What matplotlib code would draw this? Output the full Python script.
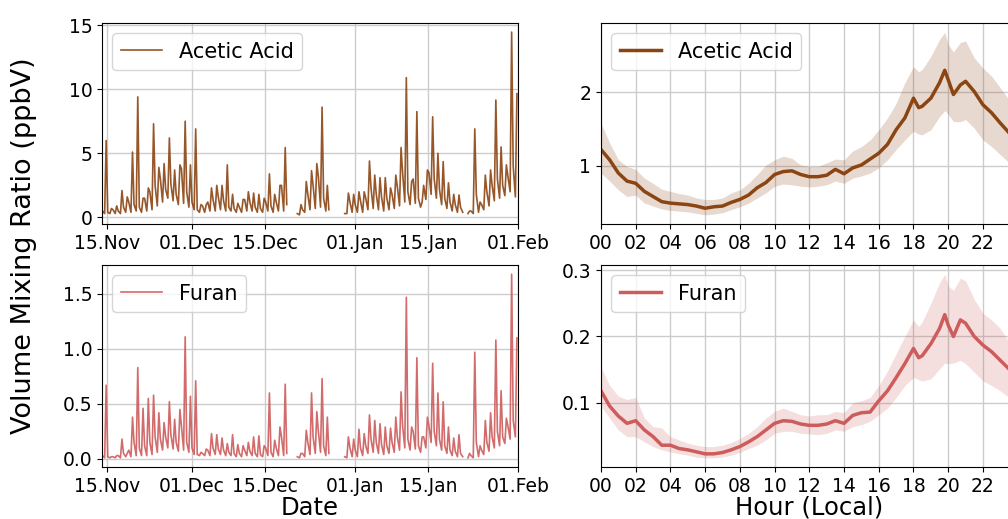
import numpy as np
import matplotlib
matplotlib.use("Agg")
import matplotlib.pyplot as plt
import matplotlib.dates as mdates
import matplotlib.ticker as mticker

nan = np.nan

# ---------------- time series, day 0 = 14 Nov; per day: night (~02h), daytime low (~12h), evening peak (~19h)
start_day = np.datetime64("2022-11-14")
acetic_night = [0.5, 0.4, 0.6, 0.5, 0.8, 1.2, 1.0, 0.8, 1.5, 2.0,
                2.5, 3.0, 2.2, 2.6, 1.8, 3.8, 2.0, 1.2, 0.6, 0.9,
                1.2, 1.4, 1.6, 1.3, 0.8, 0.7, 0.8, 1.4, 1.2, 0.8,
                0.7, 1.2, 0.9, 1.2, 2.5, 1.0, nan, 0.3, 0.6, 1.8,
                2.5, 3.2, 1.5, 0.6, nan, nan, 0.3, 1.2, 1.0, 1.3,
                1.5, 2.3, 1.8, 1.6, 1.5, 1.8, 2.4, 3.5, 2.0, 3.0,
                1.5, 2.5, 3.5, 3.0, 2.2, 1.5, 1.2, 1.0, 0.8, nan,
                0.5, 1.8, 1.0, 2.0, 2.5, 3.0, 2.5, 3.2, 4.0]
acetic_low = [0.3, 0.3, 0.3, 0.3, 0.4, 0.4, 0.5, 0.4, 0.5, 0.6,
              0.9, 1.2, 1.5, 1.3, 1.0, 1.1, 0.8, 0.6, 0.4, 0.4,
              0.5, 0.5, 0.6, 0.5, 0.5, 0.4, 0.4, 0.5, 0.5, 0.4,
              0.4, 0.5, 0.4, 0.5, 0.5, nan, nan, 0.2, 0.4, 0.6,
              0.7, 0.8, 0.5, nan, nan, nan, 0.3, 0.4, 0.4, 0.4,
              0.6, 0.7, 0.6, 0.5, 0.6, 0.7, 0.9, 1.2, 1.0, 1.1,
              0.8, 1.4, 1.8, 1.5, 1.0, 0.7, 0.5, 0.4, 0.4, 0.3,
              0.3, 0.4, 0.6, 0.9, 1.3, 1.5, 1.7, 2.0, 1.6]
acetic_peak = [6.0, 0.7, 0.9, 2.1, 1.6, 5.1, 9.4, 1.5, 2.3, 7.3,
               3.9, 4.2, 6.2, 3.7, 4.1, 7.5, 4.1, 6.9, 1.0, 1.0,
               2.3, 2.5, 2.5, 4.1, 1.8, 1.1, 1.4, 2.0, 1.9, 1.8,
               1.5, 3.4, 1.8, 2.5, 5.45, nan, nan, 1.0, 2.8, 3.65,
               4.2, 8.6, 2.5, nan, nan, nan, 1.9, 1.8, 2.0, 2.0,
               4.4, 3.3, 3.1, 3.1, 2.3, 3.3, 5.45, 10.9, 2.8, 8.25,
               1.2, 3.7, 7.85, 5.0, 4.35, 2.7, 1.8, 1.75, nan, 0.5,
               6.9, 1.2, 3.3, 3.7, 9.15, 5.5, 4.1, 14.45, 9.65]
furan_night = [0.03, 0.02, 0.02, 0.03, 0.05, 0.08, 0.15, 0.10, 0.12, 0.15,
               0.20, 0.18, 0.20, 0.22, 0.15, 0.30, 0.15, 0.10, 0.04, 0.05,
               0.08, 0.10, 0.09, 0.08, 0.06, 0.05, 0.05, 0.08, 0.07, 0.05,
               0.04, 0.10, 0.06, 0.10, 0.20, 0.05, nan, 0.02, 0.05, 0.15,
               0.20, 0.25, 0.12, 0.05, nan, nan, 0.02, 0.10, 0.08, 0.10,
               0.12, 0.18, 0.15, 0.13, 0.12, 0.15, 0.20, 0.30, 0.18, 0.25,
               0.12, 0.20, 0.30, 0.25, 0.18, 0.12, 0.08, 0.07, 0.05, nan,
               0.03, 0.15, 0.08, 0.15, 0.20, 0.25, 0.20, 0.30, 0.35]
furan_low = [0.01, 0.01, 0.01, 0.01, 0.02, 0.02, 0.03, 0.03, 0.03, 0.04,
             0.06, 0.08, 0.10, 0.09, 0.07, 0.08, 0.06, 0.04, 0.03, 0.03,
             0.03, 0.04, 0.04, 0.03, 0.03, 0.02, 0.02, 0.03, 0.03, 0.02,
             0.02, 0.03, 0.02, 0.03, 0.03, nan, nan, 0.01, 0.02, 0.04,
             0.05, 0.06, 0.03, nan, nan, nan, 0.01, 0.02, 0.02, 0.03,
             0.05, 0.06, 0.05, 0.04, 0.05, 0.06, 0.08, 0.10, 0.08, 0.09,
             0.06, 0.10, 0.15, 0.12, 0.08, 0.05, 0.03, 0.02, 0.02, 0.01,
             0.01, 0.02, 0.04, 0.07, 0.10, 0.12, 0.14, 0.18, 0.20]
furan_peak = [0.67, 0.02, 0.03, 0.18, 0.05, 0.38, 0.83, 0.46, 0.55, 0.58,
              0.42, 0.33, 0.52, 0.36, 0.45, 1.11, 0.57, 0.71, 0.06, 0.09,
              0.23, 0.22, 0.19, 0.14, 0.22, 0.13, 0.12, 0.15, 0.20, 0.21,
              0.12, 0.60, 0.17, 0.29, 0.68, nan, nan, 0.05, 0.26, 0.60,
              0.43, 0.73, 0.38, nan, nan, nan, 0.20, 0.18, 0.27, 0.23,
              0.40, 0.35, 0.32, 0.29, 0.28, 0.38, 0.61, 1.47, 0.29, 0.92,
              0.20, 0.38, 0.87, 0.60, 0.52, 0.29, 0.19, 0.22, nan, 0.05,
              0.97, 0.12, 0.35, 0.42, 1.08, 0.62, 0.37, 1.68, 1.10]

# ---------------- diurnal profiles
hours = [0, 0.5, 1, 1.5, 2, 2.5, 3, 3.5, 4, 4.5, 5, 5.5, 6, 6.5, 7, 7.5, 8, 8.5, 9, 9.5,
         10, 10.5, 11, 11.5, 12, 12.5, 13, 13.5, 14, 14.5, 15, 15.5, 16, 16.5, 17, 17.5,
         18, 18.3, 18.5, 19, 19.5, 19.8, 20, 20.3, 20.7, 21, 21.5, 22, 22.5, 23, 23.5]
acetic_mean = [1.22, 1.08, 0.9, 0.79, 0.76, 0.65, 0.58, 0.51, 0.49, 0.48, 0.47, 0.45, 0.42, 0.44,
               0.45, 0.5, 0.54, 0.6, 0.7, 0.77, 0.88, 0.92, 0.93, 0.88, 0.85, 0.85, 0.87, 0.95,
               0.89, 0.97, 1.01, 1.09, 1.17, 1.29, 1.49, 1.65, 1.92, 1.79, 1.81, 1.92, 2.13, 2.3,
               2.17, 1.97, 2.1, 2.15, 2.01, 1.83, 1.72, 1.58, 1.45]
acetic_upper = [1.58, 1.31, 1.08, 0.99, 0.95, 0.83, 0.76, 0.68, 0.65, 0.62, 0.6, 0.56, 0.54, 0.54,
                0.56, 0.63, 0.67, 0.76, 0.88, 1.01, 1.08, 1.13, 1.1, 1.01, 0.99, 0.99, 1.04, 1.09,
                1.08, 1.2, 1.26, 1.35, 1.49, 1.65, 1.85, 2.13, 2.35, 2.28, 2.31, 2.49, 2.72, 2.82,
                2.65, 2.55, 2.68, 2.7, 2.47, 2.33, 2.22, 2.06, 1.9]
acetic_lower = [0.9, 0.79, 0.67, 0.58, 0.6, 0.49, 0.45, 0.41, 0.39, 0.38, 0.37, 0.35, 0.33, 0.34,
                0.36, 0.4, 0.44, 0.49, 0.56, 0.63, 0.72, 0.75, 0.74, 0.72, 0.71, 0.72, 0.74, 0.79,
                0.76, 0.83, 0.86, 0.9, 0.97, 1.08, 1.22, 1.35, 1.47, 1.43, 1.42, 1.49, 1.67, 1.75,
                1.7, 1.6, 1.6, 1.63, 1.51, 1.35, 1.26, 1.15, 1.04]
furan_mean = [0.118, 0.095, 0.08, 0.069, 0.073, 0.059, 0.049, 0.036, 0.036, 0.031, 0.029, 0.026,
              0.023, 0.023, 0.025, 0.029, 0.034, 0.041, 0.049, 0.059, 0.069, 0.073, 0.072, 0.068,
              0.066, 0.066, 0.068, 0.073, 0.069, 0.081, 0.085, 0.086, 0.103, 0.118, 0.138, 0.159,
              0.182, 0.168, 0.171, 0.189, 0.212, 0.233, 0.217, 0.2, 0.225, 0.22, 0.2, 0.187,
              0.177, 0.164, 0.151]
furan_upper = [0.154, 0.126, 0.11, 0.105, 0.108, 0.077, 0.064, 0.062, 0.049, 0.044, 0.039, 0.036,
               0.034, 0.034, 0.036, 0.04, 0.046, 0.054, 0.064, 0.077, 0.087, 0.092, 0.087, 0.082,
               0.08, 0.082, 0.082, 0.087, 0.085, 0.1, 0.103, 0.108, 0.126, 0.148, 0.174, 0.2,
               0.225, 0.215, 0.222, 0.25, 0.281, 0.294, 0.276, 0.27, 0.288, 0.284, 0.256, 0.235,
               0.225, 0.212, 0.192]
furan_lower = [0.095, 0.077, 0.059, 0.049, 0.049, 0.041, 0.034, 0.029, 0.026, 0.023, 0.021, 0.018,
               0.017, 0.017, 0.018, 0.021, 0.025, 0.031, 0.036, 0.044, 0.054, 0.057, 0.057, 0.054,
               0.053, 0.052, 0.054, 0.059, 0.057, 0.064, 0.067, 0.072, 0.082, 0.092, 0.108, 0.126,
               0.138, 0.135, 0.133, 0.136, 0.151, 0.16, 0.159, 0.16, 0.164, 0.159, 0.146, 0.133,
               0.126, 0.118, 0.108]

date_ticks = ["2022-11-15", "2022-12-01", "2022-12-15", "2023-01-01", "2023-01-15", "2023-02-01"]
hour_ticks = list(range(0, 24, 2))

ACETIC = "#8B4513"
FURAN = "#CD5C5C"


def build_series(night, low, peak):
    t, v = [], []
    for i, (nt, lo, pk) in enumerate(zip(night, low, peak)):
        day = start_day + np.timedelta64(i, "D")
        t.append(day + np.timedelta64(2, "h")); v.append(nt)
        t.append(day + np.timedelta64(12, "h")); v.append(lo)
        t.append(day + np.timedelta64(19, "h")); v.append(pk)
    return np.array(t, dtype="datetime64[m]"), np.array(v, dtype=float)


fig = plt.figure(figsize=(10.08, 5.19), dpi=100)
axL1 = fig.add_axes([0.1012, 0.5684, 0.4127, 0.3873])
axL2 = fig.add_axes([0.1012, 0.1002, 0.4127, 0.3892])
axR1 = fig.add_axes([0.5962, 0.5684, 0.4134, 0.3873])
axR2 = fig.add_axes([0.5962, 0.1002, 0.4134, 0.3892])

tick_fs = 13.5
leg_fs = 15
lab_fs = 17.5

for ax, night, low, peak, col, name, yt in [
        (axL1, acetic_night, acetic_low, acetic_peak, ACETIC, "Acetic Acid", [0, 5, 10, 15]),
        (axL2, furan_night, furan_low, furan_peak, FURAN, "Furan", [0.0, 0.5, 1.0, 1.5])]:
    t, v = build_series(night, low, peak)
    ax.plot(t, v, color=col, lw=1.2, alpha=0.9, label=name)
    ax.set_xlim(np.datetime64("2022-11-14"), np.datetime64("2023-02-01"))
    ax.set_xticks([np.datetime64(d) for d in date_ticks])
    ax.xaxis.set_major_formatter(mdates.DateFormatter("%d.%b"))
    ax.set_yticks(yt)
    ax.grid(True, color="#cccccc", lw=1)
    ax.set_axisbelow(True)
    ax.tick_params(labelsize=tick_fs)
    ax.legend(loc="upper left", fontsize=leg_fs, handlelength=2.0)

axL2.yaxis.set_major_formatter(mticker.FormatStrFormatter("%.1f"))
axL2.set_xlabel("Date", fontsize=lab_fs, labelpad=0)

for ax, m, lo, up, col, name, yt, fmt in [
        (axR1, acetic_mean, acetic_lower, acetic_upper, ACETIC, "Acetic Acid", [1, 2], "%d"),
        (axR2, furan_mean, furan_lower, furan_upper, FURAN, "Furan", [0.1, 0.2, 0.3], "%.1f")]:
    ax.fill_between(hours, lo, up, color=col, alpha=0.2, lw=0)
    ax.plot(hours, m, color=col, lw=2.5, label=name)
    ax.set_xlim(0, 24)
    ax.set_xticks(hour_ticks)
    ax.set_xticklabels(["%02d" % h for h in hour_ticks])
    ax.set_yticks(yt)
    ax.yaxis.set_major_formatter(mticker.FormatStrFormatter(fmt))
    ax.grid(True, color="#cccccc", lw=1)
    ax.set_axisbelow(True)
    ax.tick_params(labelsize=tick_fs)
    ax.legend(loc="upper left", fontsize=leg_fs, handlelength=2.0)

axR2.set_xlabel("Hour (Local)", fontsize=lab_fs, labelpad=0)

fig.text(0.024, 0.526, "Volume Mixing Ratio (ppbV)", rotation=90, fontsize=19.5,
         ha="center", va="center")

fig.savefig("out.png", dpi=100)
